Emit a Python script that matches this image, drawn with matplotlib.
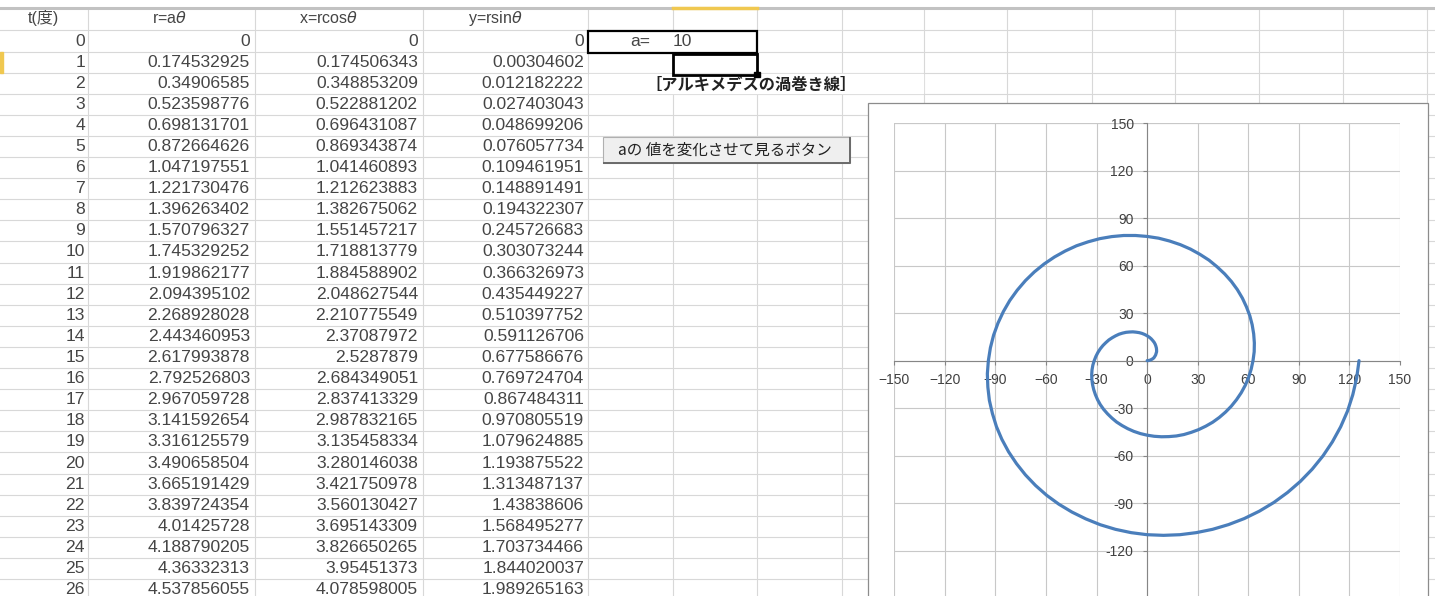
import matplotlib
matplotlib.use("Agg")
import matplotlib.pyplot as plt
from matplotlib.patches import Rectangle

plt.rcParams["font.family"] = ["Liberation Sans", "Noto Sans CJK JP"]
plt.rcParams["mathtext.fontset"] = "dejavusans"

# ---- worksheet data (t in degrees, r = a*theta, x = r cos, y = r sin) ----
headers = ["t(度)", r"r=a$\theta$", r"x=rcos$\theta$", r"y=rsin$\theta$"]
t_deg = list(range(27))
r_vals = [0, 0.174532925, 0.34906585, 0.523598776, 0.698131701, 0.872664626,
          1.047197551, 1.221730476, 1.396263402, 1.570796327, 1.745329252,
          1.919862177, 2.094395102, 2.268928028, 2.443460953, 2.617993878,
          2.792526803, 2.967059728, 3.141592654, 3.316125579, 3.490658504,
          3.665191429, 3.839724354, 4.01425728, 4.188790205, 4.36332313,
          4.537856055]
x_vals = [0, 0.174506343, 0.348853209, 0.522881202, 0.696431087, 0.869343874,
          1.041460893, 1.212623883, 1.382675062, 1.551457217, 1.718813779,
          1.884588902, 2.048627544, 2.210775549, 2.37087972, 2.5287879,
          2.684349051, 2.837413329, 2.987832165, 3.135458334, 3.280146038,
          3.421750978, 3.560130427, 3.695143309, 3.826650265, 3.95451373,
          4.078598005]
y_vals = [0, 0.00304602, 0.012182222, 0.027403043, 0.048699206, 0.076057734,
          0.109461951, 0.148891491, 0.194322307, 0.245726683, 0.303073244,
          0.366326973, 0.435449227, 0.510397752, 0.591126706, 0.677586676,
          0.769724704, 0.867484311, 0.970805519, 1.079624885, 1.193875522,
          1.313487137, 1.43838606, 1.568495277, 1.703734466, 1.844020037,
          1.989265163]
a_value = 10
title_text = "［アルキメデスの渦巻き線］"
button_text = "aの 値を変化させて見るボタン"

# spiral points for a=10, one every 5 degrees from 0 to 720
spiral_x = [0.0, 0.9, 1.7, 2.5, 3.3, 4.0, 4.5, 5.0, 5.3, 5.6, 5.6, 5.5, 5.2, 4.8,
            4.2, 3.4, 2.4, 1.3, 0.0,
            -1.4, -3.0, -4.7, -6.6, -8.5, -10.5, -12.5, -14.6, -16.7, -18.7,
            -20.7, -22.7, -24.5, -26.2, -27.8, -29.2, -30.4, -31.4,
            -32.2, -32.7, -32.9, -32.8, -32.4, -31.7, -30.7, -29.4, -27.8, -25.8,
            -23.5, -20.9, -18.1, -14.9, -11.5, -7.9, -4.0, 0.0,
            4.2, 8.5, 12.9, 17.3, 21.8, 26.2, 30.5, 34.8, 38.9, 42.8,
            46.5, 49.9, 53.0, 55.8, 58.2, 60.2, 61.7, 62.8,
            63.5, 63.6, 63.2, 62.3, 60.9, 58.9, 56.5, 53.5, 50.0, 46.0,
            41.5, 36.7, 31.3, 25.7, 19.7, 13.3, 6.8, 0.0,
            -6.9, -13.9, -21.0, -28.1, -35.0, -41.9, -48.6, -55.0, -61.1, -66.9,
            -72.2, -77.1, -81.5, -85.3, -88.5, -91.1, -93.0, -94.2,
            -94.8, -94.5, -93.6, -91.8, -89.4, -86.2, -82.2, -77.5, -72.2, -66.2,
            -59.6, -52.4, -44.6, -36.4, -27.8, -18.8, -9.5, 0.0,
            9.7, 19.4, 29.1, 38.8, 48.3, 57.6, 66.6, 75.2, 83.3, 90.9,
            97.9, 104.3, 109.9, 114.8, 118.9, 122.0, 124.3, 125.7]
spiral_y = [0.0, 0.1, 0.3, 0.7, 1.2, 1.8, 2.6, 3.5, 4.5, 5.6, 6.7, 7.9, 9.1, 10.3,
            11.5, 12.6, 13.8, 14.8, 15.7,
            16.5, 17.2, 17.7, 18.0, 18.2, 18.1, 17.9, 17.4, 16.7, 15.7,
            14.5, 13.1, 11.4, 9.6, 7.5, 5.2, 2.7, 0.0,
            -2.8, -5.8, -8.8, -11.9, -15.1, -18.3, -21.5, -24.7, -27.8, -30.8,
            -33.6, -36.3, -38.8, -41.0, -43.0, -44.7, -46.1, -47.1,
            -47.8, -48.1, -48.0, -47.6, -46.7, -45.3, -43.6, -41.4, -38.9, -35.9,
            -32.5, -28.8, -24.7, -20.3, -15.6, -10.6, -5.4, 0.0,
            5.6, 11.2, 16.9, 22.7, 28.4, 34.0, 39.5, 44.9, 50.0, 54.8,
            59.3, 63.5, 67.2, 70.5, 73.3, 75.6, 77.4, 78.5,
            79.1, 79.1, 78.4, 77.1, 75.1, 72.6, 69.3, 65.5, 61.1, 56.1,
            50.6, 44.5, 38.0, 31.0, 23.7, 16.1, 8.1, 0.0,
            -8.3, -16.7, -25.1, -33.4, -41.7, -49.7, -57.6, -65.1, -72.2, -78.9,
            -85.1, -90.7, -95.7, -100.0, -103.7, -106.6, -108.7, -110.0,
            -110.4, -110.0, -108.7, -106.6, -103.6, -99.8, -95.1, -89.6, -83.3, -76.3,
            -68.6, -60.2, -51.3, -41.8, -31.8, -21.5, -10.9, 0.0]

x_ticks = [-150, -120, -90, -60, -30, 0, 30, 60, 90, 120, 150]
x_tick_labels = ["−150", "−120", "−90", "−60", "−30", "0", "30", "60", "90", "120", "150"]
y_ticks = [-120, -90, -60, -30, 0, 30, 60, 90, 120, 150]
y_tick_labels = ["-120", "-90", "-60", "-30", "0", "30", "60", "90", "120", "150"]

# ---- sheet geometry (pixels) ----
W, H = 1435, 596
ROW0, ROW_H = 30.45, 21.1
col_lines = [88, 255, 423, 588, 672.5, 757, 841.5, 923.5, 1007, 1091.5,
             1175, 1259, 1343, 1427]
num_right = [85, 250, 418, 584]
head_x = [(28, "left"), (170, "center"), (329, "center"), (495, "center")]
GRID = "#d8d8d8"
TEXT = "#454545"


def row_center(k):
    return ROW0 + ROW_H * (k + 0.5)


def fmt(v):
    return "{:.10g}".format(v)


fig = plt.figure(figsize=(W / 100, H / 100), dpi=100)
sheet = fig.add_axes([0, 0, 1, 1])
sheet.set_xlim(0, W)
sheet.set_ylim(H, 0)
sheet.axis("off")

# cell grid
for k in range(28):
    y = ROW0 + ROW_H * k
    sheet.plot([0, W], [y, y], color=GRID, lw=0.8, zorder=1)
for x in col_lines:
    sheet.plot([x, x], [8, H], color=GRID, lw=0.8, zorder=1)
sheet.plot([0, W], [8, 8], color="#c2c2c2", lw=2.2, zorder=2)
sheet.plot([673, 757], [7.5, 7.5], color="#f0c850", lw=2.5, zorder=3)
sheet.add_patch(Rectangle((0, 52), 2.5, 21, color="#f0c850", zorder=3))

# header row and table
for (hx, ha), txt in zip(head_x, headers):
    sheet.text(hx, 18, txt, ha=ha, va="center", fontsize=11.5, color=TEXT, zorder=4)
for k in range(len(t_deg)):
    yc = row_center(k)
    for xr, v in zip(num_right, (t_deg[k], r_vals[k], x_vals[k], y_vals[k])):
        sheet.text(xr, yc, fmt(v), ha="right", va="center", fontsize=12.6,
                   color=TEXT, zorder=4)

# a= input cell and the selected cell below it
sheet.add_patch(Rectangle((588, 30.5), 169, 22.5, facecolor="white",
                          edgecolor="black", lw=1.6, zorder=5))
sheet.text(630, 42, "a=", ha="left", va="center", fontsize=12.6, color=TEXT, zorder=6)
sheet.text(673, 42, str(a_value), ha="left", va="center", fontsize=12.6, color=TEXT, zorder=6)
sheet.add_patch(Rectangle((672.5, 53.5), 84.5, 21, facecolor="none",
                          edgecolor="black", lw=2.0, zorder=6))
sheet.add_patch(Rectangle((754, 71.5), 5.5, 5.5, color="black", zorder=7))

# title over row 2
sheet.add_patch(Rectangle((589, 73.5), 334, 19.5, color="white", zorder=2))
sheet.text(645, 84.5, title_text, ha="left", va="center", fontsize=11.7,
           fontweight="bold", family=["Noto Sans CJK JP"], color="#222222", zorder=4)

# macro button
sheet.add_patch(Rectangle((603, 137), 247, 25.5, facecolor="#efefef",
                          edgecolor="#b0b0b0", lw=0.8, zorder=5))
sheet.plot([604, 850, 850], [162.5, 162.5, 137.5], color="#6a6a6a", lw=1.4, zorder=6)
sheet.text(725, 150, button_text, ha="center", va="center", fontsize=11.2,
           family=["Noto Sans CJK JP"], color="#222222", zorder=6)

# chart area
sheet.add_patch(Rectangle((868.3, 103.3), 1428 - 868.3, 520, facecolor="white",
                          edgecolor="#8c8c8c", lw=0.9, zorder=8))

left_px, right_px, top_px, bottom_px = 894.3, 1400, 123.3, 598
ax = fig.add_axes([left_px / W, 1 - bottom_px / H,
                   (right_px - left_px) / W, (bottom_px - top_px) / H])
ax.set_zorder(10)
ax.patch.set_alpha(0)
ax.set_xlim(-150, 150)
ax.set_ylim(-150, 150)
ax.set_xticks(x_ticks)
ax.set_xticklabels(x_tick_labels)
ax.set_yticks(y_ticks)
ax.set_yticklabels(y_tick_labels)
ax.grid(True, color="#c8c8c8", lw=0.8)
ax.axhline(150, color="#c8c8c8", lw=0.8, zorder=0)
ax.set_axisbelow(True)
for side in ("top", "right"):
    ax.spines[side].set_visible(False)
for side in ("left", "bottom"):
    ax.spines[side].set_position(("data", 0))
    ax.spines[side].set_color("#868686")
    ax.spines[side].set_linewidth(0.8)
ax.tick_params(axis="both", direction="out", length=3.2, width=0.8,
               color="#868686", labelsize=10, labelcolor="#404040")
ax.tick_params(axis="y", pad=6.5)
ax.tick_params(axis="x", pad=5.5)

ax.plot(spiral_x, spiral_y, color="#4a7ebb", lw=2.3,
        solid_joinstyle="round", solid_capstyle="round", zorder=3)

fig.savefig("out.png", dpi=100)
